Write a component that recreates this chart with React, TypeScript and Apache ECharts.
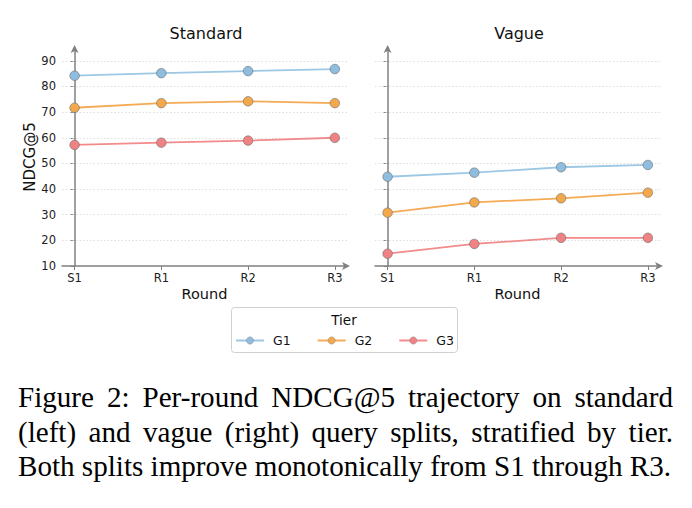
import React, { useEffect, useRef } from "react";
import * as echarts from "echarts";

const rounds = ["S1", "R1", "R2", "R3"];
const tiers = ["G1", "G2", "G3"];
const standardG1 = [84.2, 85.2, 86.0, 86.8];
const standardG2 = [71.7, 73.5, 74.2, 73.5];
const standardG3 = [57.2, 58.1, 58.9, 60.0];
const vagueG1 = [44.8, 46.4, 48.5, 49.4];
const vagueG2 = [30.8, 34.8, 36.4, 38.6];
const vagueG3 = [14.8, 18.6, 21.0, 21.0];
const yTicks = [10, 20, 30, 40, 50, 60, 70, 80, 90];
const gridTicks = [20, 30, 40, 50, 60, 70, 80, 90];
const panelTitles = ["Standard", "Vague"];
const captionLines = [
  "Figure 2: Per-round NDCG@5 trajectory on standard",
  "(left) and vague (right) query splits, stratified by tier.",
  "Both splits improve monotonically from S1 through R3.",
];

const lineColors = ["#9cc8e3", "#f5ab55", "#f28b8b"];
const markerColors = ["#8fbde0", "#f4a84c", "#f08284"];

const FONT = "DejaVu Sans";

export default function App() {
  const ref = useRef<HTMLDivElement>(null);
  useEffect(() => {
    if (!ref.current) return;
    const chart = echarts.init(ref.current, null, { renderer: "svg" });
    const xIdx = rounds.map((_, i) => i);
    const panels = [
      [standardG1, standardG2, standardG3],
      [vagueG1, vagueG2, vagueG3],
    ];
    const grids = [
      { left: 62, top: 48, width: 285, height: 218 },
      { left: 375, top: 48, width: 285, height: 218 },
    ];
    const axisLineStyle = { color: "#808080", width: 1.5 };
    const xAxes = grids.map((_, gi) => ({
      type: "value",
      gridIndex: gi,
      min: -0.145,
      max: 3.14,
      name: "Round",
      nameLocation: "middle",
      nameGap: 20,
      nameMoveOverlap: false,
      nameTextStyle: { fontFamily: FONT, fontSize: 14.5, color: "#111" },
      axisLine: {
        show: true,
        lineStyle: axisLineStyle,
        symbol: ["none", "arrow"],
        symbolSize: [6, 8],
        symbolOffset: [0, 3],
      },
      axisTick: { show: true, customValues: xIdx, length: 4, lineStyle: { color: "#808080" } },
      axisLabel: {
        customValues: xIdx,
        formatter: (v: number) => rounds[Math.round(v)] ?? "",
        fontFamily: FONT,
        fontSize: 11.5,
        color: "#222",
        margin: 6,
      },
      splitLine: { show: false },
    }));
    const yAxes = grids.map((_, gi) => ({
      type: "value",
      gridIndex: gi,
      min: 10,
      max: 95,
      name: gi === 0 ? "NDCG@5" : "",
      nameLocation: "middle",
      nameGap: 24,
      nameTextStyle: { fontFamily: FONT, fontSize: 15, color: "#111" },
      axisLine: {
        show: true,
        lineStyle: axisLineStyle,
        symbol: ["none", "arrow"],
        symbolSize: [6, 8],
        symbolOffset: [0, 3],
      },
      axisTick: { show: true, customValues: yTicks, length: 4, lineStyle: { color: "#808080" } },
      axisLabel: {
        show: gi === 0,
        customValues: yTicks,
        fontFamily: FONT,
        fontSize: 11.5,
        color: "#222",
        margin: 6,
      },
      splitLine: { show: false },
    }));
    const series: any[] = [];
    panels.forEach((panel, gi) => {
      panel.forEach((vals, ti) => {
        series.push({
          type: "line",
          name: tiers[ti],
          xAxisIndex: gi,
          yAxisIndex: gi,
          data: vals.map((v, i) => [i, v]),
          symbol: "circle",
          symbolSize: 9.5,
          lineStyle: { color: lineColors[ti], width: 1.8 },
          itemStyle: { color: markerColors[ti], borderColor: "#6a6a6a", borderWidth: 0.6 },
          z: 3,
          markLine:
            ti === 0
              ? {
                  silent: true,
                  symbol: "none",
                  label: { show: false },
                  lineStyle: { color: "#d6d6d6", type: [1.5, 2], width: 0.8 },
                  data: gridTicks.map((t) => ({ yAxis: t })),
                  z: 1,
                }
              : undefined,
        });
      });
    });
    chart.setOption({
      animation: false,
      grid: grids,
      xAxis: xAxes,
      yAxis: yAxes,
      series,
      legend: {
        data: tiers,
        left: 235,
        top: 334,
        padding: 0,
        itemWidth: 28,
        itemHeight: 9,
        itemGap: 26,
        itemStyle: { borderColor: "#888", borderWidth: 0.5 },
        textStyle: { fontFamily: FONT, fontSize: 12.5, color: "#111", padding: [0, 0, 0, 4] },
      },
      graphic: [
        ...panelTitles.map((t, i) => ({
          type: "text",
          x: i === 0 ? 206 : 519,
          y: 33,
          style: {
            text: t,
            fontFamily: FONT,
            fontSize: 16,
            fill: "#111",
            textAlign: "center",
            textVerticalAlign: "middle",
          },
        })),
        {
          type: "rect",
          shape: { x: 231.5, y: 307.5, width: 226, height: 45, r: 3 },
          style: { fill: "#fff", stroke: "#d0d0d0", lineWidth: 1 },
          z: -1,
        },
        {
          type: "text",
          x: 344,
          y: 320,
          style: {
            text: "Tier",
            fontFamily: FONT,
            fontSize: 13.5,
            fill: "#111",
            textAlign: "center",
            textVerticalAlign: "middle",
          },
        },
      ],
    });
    return () => chart.dispose();
  }, []);
  return (
    <div style={{ position: "absolute", left: 0, top: 0, width: 692, height: 508, background: "#fff" }}>
      <div ref={ref} style={{ position: "absolute", left: 0, top: 0, width: 692, height: 370 }} />
      {captionLines.map((line, i) => (
        <div
          key={i}
          style={{
            position: "absolute",
            left: 18,
            width: i === 2 ? 680 : 655,
            top: 380 + i * 34.5,
            fontFamily: "'Liberation Serif', 'Times New Roman', serif",
            fontSize: 29.1,
            lineHeight: "34.5px",
            color: "#000",
            whiteSpace: "nowrap",
            textAlign: i === 2 ? "left" : "justify",
            textAlignLast: i === 2 ? "left" : "justify",
          }}
        >
          {line}
        </div>
      ))}
    </div>
  );
}
